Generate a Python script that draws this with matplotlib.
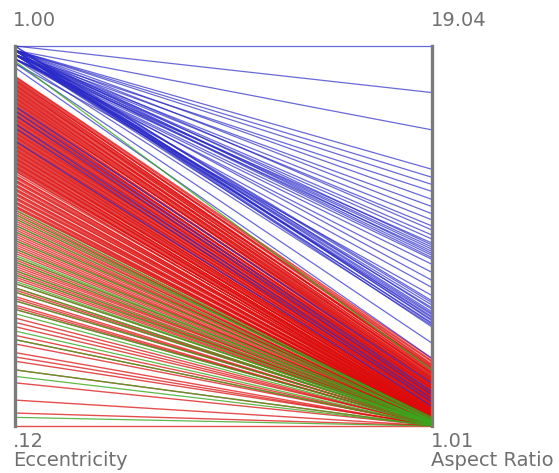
import numpy as np
import matplotlib.pyplot as plt

# axis ranges
ecc_min, ecc_max = 0.12, 1.00
ar_min, ar_max = 1.01, 19.04

# class 1 (blue)
blue_ecc = [1.00, 1.00, 0.99, 0.99, 0.99, 0.99, 0.98, 0.99, 0.98, 0.99, 0.98, 0.98, 0.99,
            0.98, 0.98, 0.97, 0.98, 0.97, 0.98, 0.97, 0.97, 0.97, 0.98, 0.97, 0.96, 0.99,
            0.98, 0.99, 0.98, 0.99, 1.00, 0.99, 0.99, 0.96, 0.95, 0.86, 0.85, 0.84, 0.82,
            0.81, 0.78,
            0.99, 0.98, 0.99, 0.98, 0.99, 0.98, 1.00, 0.99, 0.98, 0.99, 0.98, 0.97]
blue_ar = [19.04, 16.83, 15.06, 13.19, 12.81, 12.47, 12.14, 11.76, 11.42, 11.08, 10.79,
           10.50, 10.31, 10.07, 9.88, 9.69, 9.50, 9.30, 9.11, 8.92, 8.68, 8.30, 7.92, 7.58,
           7.20, 6.86, 6.62, 6.43, 6.29, 6.14, 6.00, 5.85, 5.71, 4.94, 4.22, 3.02, 2.64,
           2.50, 2.30, 2.15, 1.95,
           9.60, 9.40, 9.20, 9.00, 6.95, 6.75, 6.55, 6.35, 6.20, 6.05, 5.90, 5.78]

# class 2 (red)
red_ecc = [0.93, 0.925, 0.92, 0.915, 0.91, 0.905, 0.90, 0.895, 0.89, 0.885, 0.88, 0.875,
           0.87, 0.865, 0.86, 0.855, 0.85, 0.845, 0.84, 0.835, 0.83, 0.825, 0.82, 0.815,
           0.81, 0.805, 0.80, 0.795, 0.79, 0.785, 0.78, 0.775, 0.77, 0.765, 0.76, 0.755,
           0.75, 0.745, 0.74, 0.735, 0.73, 0.725, 0.72, 0.715, 0.71, 0.70,
           0.928, 0.922, 0.918, 0.912, 0.908, 0.902, 0.898, 0.892, 0.888, 0.882, 0.878,
           0.872, 0.868, 0.862, 0.858, 0.852, 0.848, 0.842, 0.838, 0.832, 0.828, 0.822,
           0.818, 0.812, 0.808, 0.802, 0.798, 0.792, 0.788, 0.782, 0.778, 0.772, 0.768,
           0.762, 0.758, 0.752, 0.748, 0.742, 0.738, 0.732, 0.728, 0.722, 0.718, 0.712,
           0.69, 0.68, 0.67, 0.66, 0.65, 0.64, 0.63, 0.62, 0.61, 0.60, 0.59, 0.58, 0.57,
           0.56, 0.55, 0.54, 0.53, 0.52, 0.51, 0.50, 0.49, 0.48, 0.47, 0.46, 0.45, 0.44,
           0.43, 0.42, 0.41, 0.40, 0.39, 0.37, 0.35, 0.33, 0.31, 0.29, 0.27, 0.25, 0.22,
           0.18, 0.15, 0.12,
           0.695, 0.685, 0.675, 0.665, 0.655, 0.645, 0.635, 0.625, 0.605, 0.585, 0.565,
           0.545, 0.525, 0.505, 0.485, 0.465,
           0.705, 0.698, 0.688, 0.678, 0.668, 0.658, 0.648, 0.638, 0.628, 0.615, 0.595,
           0.575, 0.555, 0.535, 0.495, 0.475, 0.435, 0.415, 0.395, 0.36, 0.32, 0.28]
red_ar = [4.20, 3.95, 4.05, 3.80, 3.60, 3.85, 3.45, 3.55, 3.30, 3.40, 3.20, 3.05,
          3.25, 2.95, 3.10, 2.85, 2.90, 2.70, 2.80, 2.60, 2.65, 2.50, 2.55, 2.40,
          2.45, 2.30, 2.35, 2.20, 2.25, 2.10, 2.15, 2.05, 1.95, 2.00, 1.90, 1.85,
          1.80, 1.88, 1.75, 1.70, 1.78, 1.65, 1.60, 1.68, 1.55, 1.50,
          4.10, 3.90, 3.70, 3.75, 3.50, 3.65, 3.35, 3.50, 3.20, 3.30, 3.10, 3.15,
          2.95, 3.05, 2.80, 2.95, 2.75, 2.85, 2.65, 2.75, 2.55, 2.60, 2.45, 2.50,
          2.35, 2.40, 2.25, 2.30, 2.15, 2.20, 2.05, 2.10, 1.98, 1.95, 1.92, 1.82,
          1.85, 1.72, 1.78, 1.66, 1.72, 1.58, 1.64, 1.52,
          1.62, 1.45, 1.55, 1.40, 1.50, 1.35, 1.45, 1.30, 1.40, 1.28, 1.35, 1.25, 1.32,
          1.22, 1.30, 1.20, 1.26, 1.18, 1.24, 1.16, 1.22, 1.14, 1.20, 1.12, 1.18, 1.10,
          1.15, 1.08, 1.13, 1.06, 1.11, 1.05, 1.09, 1.04, 1.07, 1.03, 1.06, 1.02, 1.04,
          1.02, 1.03, 1.01,
          1.48, 1.58, 1.42, 1.52, 1.38, 1.47, 1.33, 1.42, 1.36, 1.30, 1.27,
          1.24, 1.21, 1.19, 1.16, 1.13,
          1.66, 1.56, 1.50, 1.44, 1.41, 1.36, 1.39, 1.31, 1.34, 1.29, 1.26,
          1.28, 1.23, 1.21, 1.17, 1.15, 1.12, 1.09, 1.07, 1.06, 1.04, 1.03]

# class 3 (green)
green_ecc = [0.965, 0.62, 0.61, 0.60, 0.57, 0.55, 0.53, 0.51, 0.50, 0.48, 0.47, 0.45,
             0.44, 0.43, 0.41, 0.39, 0.38, 0.34, 0.32, 0.25, 0.235, 0.14,
             0.585, 0.515, 0.455]
green_ar = [3.65, 1.35, 1.30, 1.42, 1.25, 1.28, 1.20, 1.22, 1.15, 1.18, 1.12, 1.16,
            1.10, 1.14, 1.12, 1.10, 1.05, 1.04, 1.03, 1.03, 1.02, 1.01,
            1.26, 1.17, 1.09]


def norm(v, lo, hi):
    return (np.asarray(v) - lo) / (hi - lo)


fig = plt.figure(figsize=(5.59, 4.73), dpi=100)
ax = fig.add_axes([15 / 559, (473 - 426) / 473, 417 / 559, 380 / 473])
ax.set_xlim(0, 1)
ax.set_ylim(0, 1)
ax.axis('off')

groups = [
    (red_ecc, red_ar, '#dc0a0a', 0.72, 1.0, 2),
    (blue_ecc, blue_ar, '#2a2ac8', 0.7, 0.9, 3),
    (green_ecc, green_ar, '#38a81e', 0.8, 0.9, 4),
]
for ecc, ar, color, alpha, lw, z in groups:
    ye = norm(ecc, ecc_min, ecc_max)
    ya = norm(ar, ar_min, ar_max)
    for a, b in zip(ye, ya):
        ax.plot([0, 1], [a, b], color=color, lw=lw, alpha=alpha, zorder=z,
                clip_on=False, solid_capstyle='butt')

# vertical axes
for x in (0, 1):
    ax.plot([x, x], [0, 1], color='#7a7a7a', lw=2.4, zorder=10, clip_on=False)

tk = dict(fontsize=14, color='#707070', family='DejaVu Sans')
fig.text(13 / 559, 1 - 26 / 473, '1.00', ha='left', va='baseline', **tk)
fig.text(431 / 559, 1 - 26 / 473, '19.04', ha='left', va='baseline', **tk)
fig.text(13 / 559, 1 - 447 / 473, '.12', ha='left', va='baseline', **tk)
fig.text(13 / 559, 1 - 466 / 473, 'Eccentricity', ha='left', va='baseline', **tk)
fig.text(431 / 559, 1 - 447 / 473, '1.01', ha='left', va='baseline', **tk)
fig.text(431 / 559, 1 - 466 / 473, 'Aspect Ratio', ha='left', va='baseline', **tk)

fig.savefig('out.png', dpi=100)
